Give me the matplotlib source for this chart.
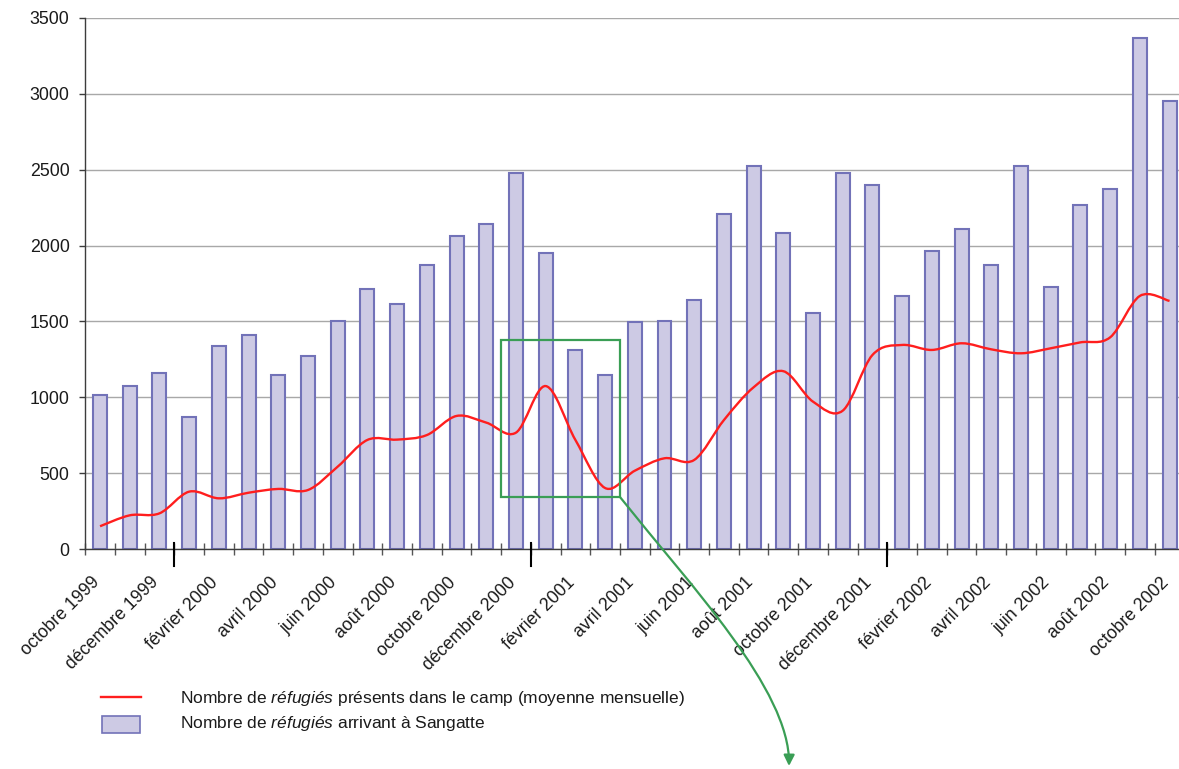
import matplotlib
matplotlib.use("Agg")
import matplotlib.pyplot as plt
from matplotlib.path import Path
from matplotlib.patches import PathPatch, Rectangle, FancyArrowPatch
from matplotlib.lines import Line2D
import matplotlib.transforms as mtransforms
import numpy as np

plt.rcParams['font.family'] = ['Liberation Sans', 'DejaVu Sans']
plt.rcParams['mathtext.fontset'] = 'custom'
plt.rcParams['mathtext.rm'] = 'Liberation Sans'
plt.rcParams['mathtext.it'] = 'Liberation Sans:italic'

# ---------------- data ----------------
mois = ['octobre 1999', 'novembre 1999', 'décembre 1999', 'janvier 2000', 'février 2000',
        'mars 2000', 'avril 2000', 'mai 2000', 'juin 2000', 'juillet 2000', 'août 2000',
        'septembre 2000', 'octobre 2000', 'novembre 2000', 'décembre 2000', 'janvier 2001',
        'février 2001', 'mars 2001', 'avril 2001', 'mai 2001', 'juin 2001', 'juillet 2001',
        'août 2001', 'septembre 2001', 'octobre 2001', 'novembre 2001', 'décembre 2001',
        'janvier 2002', 'février 2002', 'mars 2002', 'avril 2002', 'mai 2002', 'juin 2002',
        'juillet 2002', 'août 2002', 'septembre 2002', 'octobre 2002']

arrivees = [1015, 1075, 1160, 870, 1340, 1410, 1145, 1275, 1500, 1715, 1615, 1870,
            2060, 2145, 2480, 1950, 1310, 1145, 1495, 1505, 1640, 2205, 2525, 2085,
            1555, 2480, 2400, 1665, 1965, 2110, 1875, 2525, 1725, 2270, 2375, 3370, 2955]

presents = [150, 222, 235, 378, 334, 371, 396, 389, 543, 719, 721, 751, 877, 833,
            767, 1074, 719, 402, 516, 598, 587, 850, 1066, 1172, 971, 912, 1279,
            1345, 1312, 1356, 1316, 1290, 1323, 1362, 1395, 1668, 1635]

labels_idx = list(range(0, 37, 2))
yticks = [0, 500, 1000, 1500, 2000, 2500, 3000, 3500]
annee_debut = [3, 15, 27]   # janvier positions (year boundaries)
zoom_box = (14, 17, 343, 1378)  # first month, last month, y low, y high

leg1 = r"Nombre de $\mathit{réfugiés}$ présents dans le camp (moyenne mensuelle)"
leg2 = r"Nombre de $\mathit{réfugiés}$ arrivant à Sangatte"

# ---------------- figure ----------------
W, H = 1179, 769
fig = plt.figure(figsize=(W / 100, H / 100), dpi=100)
fig.patch.set_facecolor('white')

left_px, right_px, top_px, bot_px = 85.2, 1184.4, 18, 549
ax = fig.add_axes([left_px / W, 1 - bot_px / H, (right_px - left_px) / W, (bot_px - top_px) / H])

x = np.arange(len(mois))
ax.bar(x, arrivees, width=0.47, color='#cdcae4', edgecolor='#7272b8', linewidth=1.5, zorder=2)

# smoothed line (Catmull-Rom -> cubic Bezier) through monthly values
pts = np.column_stack([x, presents]).astype(float)
verts = [tuple(pts[0])]
codes = [Path.MOVETO]
n = len(pts)
for i in range(n - 1):
    p0 = pts[i - 1] if i > 0 else pts[i]
    p1 = pts[i]
    p2 = pts[i + 1]
    p3 = pts[i + 2] if i + 2 < n else pts[i + 1]
    c1 = p1 + (p2 - p0) / 6.0
    c2 = p2 - (p3 - p1) / 6.0
    verts += [tuple(c1), tuple(c2), tuple(p2)]
    codes += [Path.CURVE4] * 3
ax.add_patch(PathPatch(Path(verts, codes), fill=False, edgecolor='#ff1e1e', lw=1.7, zorder=3))

ax.set_xlim(-0.5, len(mois) - 0.5)
ax.set_ylim(0, 3500)

# grid and spines
ax.set_axisbelow(True)
ax.yaxis.grid(True, color='#a8a8a8', lw=1.0)
for s in ['top', 'right']:
    ax.spines[s].set_visible(False)
for s in ['left', 'bottom']:
    ax.spines[s].set_color('#3c3c3c')
    ax.spines[s].set_linewidth(1.0)
    ax.spines[s].set_zorder(5)

ax.set_yticks(yticks)
ax.set_yticklabels([str(v) for v in yticks])
ax.tick_params(axis='y', direction='out', length=4.3, width=1.0, color='#3c3c3c',
               pad=7, labelsize=12.8, labelcolor='#1a1a1a')

ax.set_xticks(labels_idx)
ax.set_xticklabels([mois[i] for i in labels_idx], rotation=45, ha='right', va='top',
                   rotation_mode='anchor')
ax.tick_params(axis='x', which='major', length=0, pad=18, labelsize=12.8, labelcolor='#1a1a1a')
off = mtransforms.ScaledTranslation(-9 / 100, 0, fig.dpi_scale_trans)
for lab in ax.get_xticklabels():
    lab.set_transform(lab.get_transform() + off)

ax.set_xticks(np.arange(-0.5, len(mois), 1.0), minor=True)
ax.tick_params(axis='x', which='minor', direction='inout', length=8.6, width=1.0, color='#555555')

trans = mtransforms.blended_transform_factory(ax.transData, ax.transAxes)
for j in annee_debut:
    ax.plot([j - 0.5, j - 0.5], [0.0113, -0.032], transform=trans, color='black', lw=1.5,
            clip_on=False, zorder=6)

# green box
gx0, gx1, gy0, gy1 = zoom_box
green = '#3a9e55'
ax.add_patch(Rectangle((gx0 - 0.5, gy0), gx1 - gx0 + 1, gy1 - gy0, fill=False,
                       edgecolor=green, lw=1.6, zorder=4))

# curved arrow from the box corner to the bottom of the figure
corner = fig.transFigure.inverted().transform(ax.transData.transform((gx1 + 0.5, gy0)))
def fpx(px, py):
    return (px / W, 1 - py / H)
arr_verts = [tuple(corner), fpx(690, 585), fpx(790, 690), fpx(789, 766)]
arr_codes = [Path.MOVETO, Path.CURVE4, Path.CURVE4, Path.CURVE4]
arrow = FancyArrowPatch(path=Path(arr_verts, arr_codes), arrowstyle='-|>', mutation_scale=16,
                        color=green, lw=1.6, transform=fig.transFigure)
fig.add_artist(arrow)

# legend (manual)
fig.add_artist(Line2D([101 / W, 141 / W], [1 - 697 / H, 1 - 697 / H], color='#ff1e1e', lw=1.7,
                      transform=fig.transFigure))
fig.add_artist(Rectangle((102 / W, 1 - 733 / H), 38 / W, 17 / H, facecolor='#cdcae4',
                         edgecolor='#7272b8', lw=1.2, transform=fig.transFigure))
fig.text(180 / W, 1 - 703 / H, leg1, fontsize=12.55, va='baseline', ha='left', color='#1a1a1a')
fig.text(180 / W, 1 - 728 / H, leg2, fontsize=12.55, va='baseline', ha='left', color='#1a1a1a')

fig.savefig('out.png', dpi=100, facecolor='white')
